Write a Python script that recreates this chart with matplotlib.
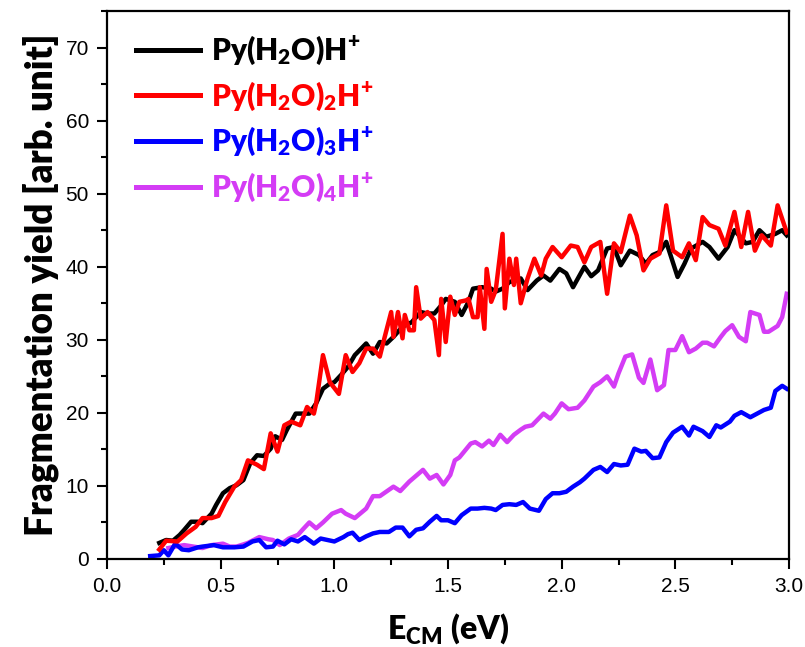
import matplotlib
matplotlib.use("Agg")
import matplotlib.pyplot as plt
from matplotlib.ticker import MultipleLocator

# ---- data ----
e1 = [0.23, 0.26, 0.29, 0.32, 0.34, 0.37, 0.40, 0.42, 0.46, 0.48, 0.51, 0.54, 0.57, 0.60, 0.63, 0.66,
      0.69, 0.72, 0.74, 0.77, 0.79, 0.83, 0.86, 0.89, 0.92, 0.95, 0.98, 1.00, 1.03, 1.06, 1.09, 1.14,
      1.17, 1.20, 1.23, 1.26, 1.30, 1.34, 1.38, 1.41, 1.44, 1.47, 1.49, 1.53, 1.56, 1.59, 1.61, 1.65,
      1.69, 1.71, 1.74, 1.77, 1.82, 1.85, 1.89, 1.92, 1.95, 1.99, 2.02, 2.05, 2.10, 2.13, 2.16, 2.20,
      2.23, 2.26, 2.30, 2.34, 2.37, 2.40, 2.43, 2.46, 2.51, 2.54, 2.57, 2.62, 2.65, 2.69, 2.73, 2.76,
      2.81, 2.84, 2.87, 2.90, 2.94, 2.97, 2.99]
y1 = [2.2, 2.6, 2.5, 3.3, 4.0, 5.1, 5.1, 4.9, 6.2, 7.4, 9.0, 9.7, 10.1, 10.8, 13.1, 14.2,
      14.1, 15.1, 16.8, 16.3, 17.6, 19.9, 19.9, 19.9, 21.3, 23.3, 24.0, 24.2, 25.2, 26.3, 27.9, 29.5,
      28.1, 29.7, 29.5, 30.4, 31.8, 32.4, 33.8, 33.6, 33.6, 34.7, 35.6, 35.2, 33.4, 35.2, 37.0, 37.2,
      37.0, 36.6, 37.0, 37.9, 38.4, 36.8, 38.1, 38.8, 38.1, 39.7, 39.1, 37.2, 40.0, 38.7, 39.5, 42.5,
      42.7, 40.2, 42.2, 41.6, 40.4, 41.6, 42.0, 43.4, 38.6, 40.4, 42.5, 43.4, 42.7, 41.1, 42.7, 45.0,
      43.2, 43.4, 45.0, 44.1, 44.5, 45.0, 44.3]

e2 = [0.23, 0.26, 0.31, 0.35, 0.39, 0.42, 0.46, 0.49, 0.52, 0.56, 0.59, 0.62, 0.66, 0.69, 0.72, 0.75,
      0.78, 0.81, 0.85, 0.88, 0.91, 0.92, 0.95, 0.98, 1.02, 1.05, 1.08, 1.11, 1.14, 1.17, 1.20, 1.22,
      1.25, 1.26, 1.28, 1.30, 1.31, 1.33, 1.35, 1.36, 1.38, 1.41, 1.44, 1.46, 1.47, 1.49, 1.51, 1.53,
      1.55, 1.58, 1.59, 1.61, 1.63, 1.64, 1.66, 1.67, 1.69, 1.71, 1.74, 1.75, 1.77, 1.79, 1.80, 1.82,
      1.85, 1.88, 1.91, 1.93, 1.96, 2.00, 2.04, 2.07, 2.10, 2.13, 2.17, 2.20, 2.23, 2.26, 2.30, 2.33,
      2.36, 2.39, 2.43, 2.46, 2.49, 2.53, 2.56, 2.59, 2.62, 2.65, 2.69, 2.72, 2.76, 2.79, 2.82, 2.85,
      2.88, 2.92, 2.95, 2.99]
y2 = [1.3, 2.5, 2.4, 3.5, 4.4, 5.6, 5.6, 5.9, 7.8, 9.9, 10.8, 13.5, 12.9, 12.3, 17.2, 14.7,
      18.3, 18.8, 18.3, 20.8, 19.9, 21.3, 27.9, 24.2, 22.6, 27.9, 25.6, 26.8, 28.8, 28.8, 27.7, 30.2,
      33.8, 30.4, 33.8, 30.2, 33.4, 31.3, 31.3, 37.2, 32.9, 33.8, 32.7, 27.9, 35.6, 29.7, 35.9, 33.4,
      35.2, 35.4, 35.6, 33.1, 33.1, 37.2, 31.5, 39.7, 35.2, 36.8, 44.5, 34.3, 41.1, 37.5, 41.1, 35.0,
      38.4, 41.1, 38.8, 41.1, 42.7, 41.3, 42.9, 42.7, 40.6, 42.7, 43.4, 36.3, 43.2, 42.0, 47.0, 44.3,
      39.5, 41.1, 41.8, 48.4, 42.2, 41.3, 43.2, 40.9, 46.8, 45.7, 45.2, 42.9, 47.5, 42.7, 47.5, 42.2,
      44.3, 42.9, 48.4, 44.7]

e3 = [0.19, 0.23, 0.25, 0.27, 0.30, 0.33, 0.36, 0.40, 0.42, 0.47, 0.51, 0.56, 0.60, 0.64, 0.67, 0.70,
      0.73, 0.75, 0.78, 0.81, 0.84, 0.87, 0.91, 0.94, 0.97, 1.00, 1.04, 1.06, 1.08, 1.11, 1.14, 1.17,
      1.20, 1.24, 1.27, 1.30, 1.33, 1.36, 1.39, 1.42, 1.45, 1.47, 1.50, 1.53, 1.56, 1.60, 1.63, 1.66,
      1.69, 1.71, 1.74, 1.77, 1.80, 1.83, 1.86, 1.90, 1.93, 1.96, 1.99, 2.02, 2.05, 2.08, 2.10, 2.14,
      2.17, 2.20, 2.23, 2.26, 2.29, 2.32, 2.35, 2.37, 2.40, 2.43, 2.46, 2.49, 2.53, 2.56, 2.58, 2.62,
      2.65, 2.68, 2.70, 2.74, 2.76, 2.79, 2.83, 2.86, 2.89, 2.92, 2.94, 2.97, 2.99]
y3 = [0.4, 0.5, 1.2, 0.5, 2.1, 1.3, 1.2, 1.6, 1.7, 1.9, 1.6, 1.6, 1.7, 2.4, 2.6, 1.6,
      1.7, 2.5, 2.0, 2.7, 2.4, 3.0, 2.1, 2.8, 2.6, 2.4, 3.0, 3.4, 3.6, 2.6, 3.1, 3.5,
      3.7, 3.7, 4.3, 4.3, 3.1, 4.0, 4.2, 5.1, 5.9, 5.3, 5.3, 4.9, 6.0, 6.9, 6.9, 7.0,
      6.9, 6.7, 7.4, 7.5, 7.4, 7.8, 6.9, 6.6, 8.2, 9.0, 9.0, 9.2, 9.9, 10.5, 11.0, 12.2,
      12.6, 11.9, 13.0, 12.8, 12.9, 15.1, 14.7, 14.8, 13.8, 13.9, 16.0, 17.3, 18.1, 16.9, 18.1, 17.5,
      16.7, 18.3, 18.0, 18.8, 19.6, 20.1, 19.4, 19.9, 20.4, 20.7, 23.0, 23.7, 23.3]

e4 = [0.27, 0.30, 0.34, 0.40, 0.42, 0.46, 0.51, 0.54, 0.57, 0.62, 0.67, 0.71, 0.73, 0.76, 0.80, 0.84,
      0.86, 0.89, 0.92, 0.95, 0.99, 1.03, 1.05, 1.09, 1.14, 1.17, 1.20, 1.26, 1.29, 1.33, 1.39, 1.42,
      1.45, 1.48, 1.51, 1.53, 1.55, 1.60, 1.62, 1.65, 1.68, 1.70, 1.73, 1.76, 1.79, 1.82, 1.84, 1.87,
      1.92, 1.95, 1.97, 2.00, 2.03, 2.07, 2.10, 2.14, 2.17, 2.20, 2.23, 2.25, 2.28, 2.31, 2.34, 2.36,
      2.39, 2.42, 2.45, 2.47, 2.50, 2.53, 2.56, 2.59, 2.62, 2.64, 2.67, 2.70, 2.72, 2.75, 2.78, 2.81,
      2.83, 2.87, 2.89, 2.91, 2.95, 2.97, 2.99]
y4 = [1.5, 1.7, 1.9, 1.6, 1.5, 1.9, 2.1, 1.7, 1.7, 2.2, 3.0, 2.7, 2.6, 1.9, 2.8, 3.3,
      4.0, 5.0, 4.2, 5.0, 6.2, 6.7, 6.2, 5.6, 6.9, 8.6, 8.6, 9.9, 9.3, 10.6, 12.2, 11.0,
      11.5, 10.2, 11.5, 13.5, 13.9, 15.8, 16.0, 15.4, 16.2, 15.6, 17.0, 16.0, 17.0, 17.7, 18.1, 18.3,
      19.9, 19.2, 19.9, 21.3, 20.5, 20.7, 21.7, 23.6, 24.2, 25.0, 23.6, 25.4, 27.7, 28.0, 24.8, 24.1,
      27.3, 23.1, 23.8, 28.6, 28.6, 30.5, 28.3, 28.8, 29.6, 29.6, 29.1, 30.4, 31.2, 32.0, 30.4, 29.8,
      33.8, 33.4, 31.1, 31.1, 31.9, 33.1, 36.3]

labels = [r"Py(H$_2$O)H$^{+}$", r"Py(H$_2$O)$_2$H$^{+}$", r"Py(H$_2$O)$_3$H$^{+}$", r"Py(H$_2$O)$_4$H$^{+}$"]
colors = ["#000000", "#ff0000", "#0000ff", "#d43cf5"]

xticks = [0.0, 0.5, 1.0, 1.5, 2.0, 2.5, 3.0]
yticks = [0, 10, 20, 30, 40, 50, 60, 70]

plt.rcParams['mathtext.default'] = 'regular'

fig = plt.figure(figsize=(8.05, 6.47), dpi=100)
ax = fig.add_axes([107/805, 1 - 559/647, (789 - 107)/805, (559 - 11)/647])

series = [(e1, y1), (e2, y2), (e3, y3), (e4, y4)]
order = [3, 2, 0, 1]
lines = {}
for i in order:
    xs, ys = series[i]
    ln, = ax.plot(xs, ys, color=colors[i], lw=3.2, label=labels[i], solid_joinstyle='round')
    lines[i] = ln

ax.set_xlim(0, 3.0)
ax.set_ylim(0, 75)
ax.set_xticks(xticks)
ax.set_yticks(yticks)
ax.set_xticklabels([f"{v:.1f}" for v in xticks])
ax.set_yticklabels([str(v) for v in yticks])
ax.xaxis.set_minor_locator(MultipleLocator(0.25))
ax.yaxis.set_minor_locator(MultipleLocator(5))

tickfont = ['Liberation Sans Narrow', 'Liberation Sans', 'DejaVu Sans']
for lab in ax.get_xticklabels() + ax.get_yticklabels():
    lab.set_family(tickfont)
    lab.set_fontsize(15)
ax.tick_params(which='major', direction='out', length=7, width=1.5, pad=6)
ax.tick_params(which='minor', direction='out', length=4, width=1.5)
for s in ax.spines.values():
    s.set_linewidth(1.6)

labfont = ['Lato', 'DejaVu Sans']
ax.set_ylabel("Fragmentation yield [arb. unit]", family=labfont, fontweight='heavy',
              fontsize=26.5, labelpad=5)
ax.set_xlabel(r"E$_{CM}$ (eV)", family=labfont, fontweight='heavy', fontsize=23, labelpad=11)

handles = [lines[i] for i in range(4)]
leg = ax.legend(handles, labels, loc='upper left', frameon=False,
                prop={'family': labfont, 'weight': 'heavy', 'size': 21.5},
                handlelength=2.15, handletextpad=0.35, labelspacing=0.42,
                borderaxespad=0.0, bbox_to_anchor=(0.025, 0.98))
for t, c in zip(leg.get_texts(), colors):
    t.set_color(c)
for h in leg.get_lines():
    h.set_linewidth(3.6)

fig.savefig("out.png", dpi=100)
